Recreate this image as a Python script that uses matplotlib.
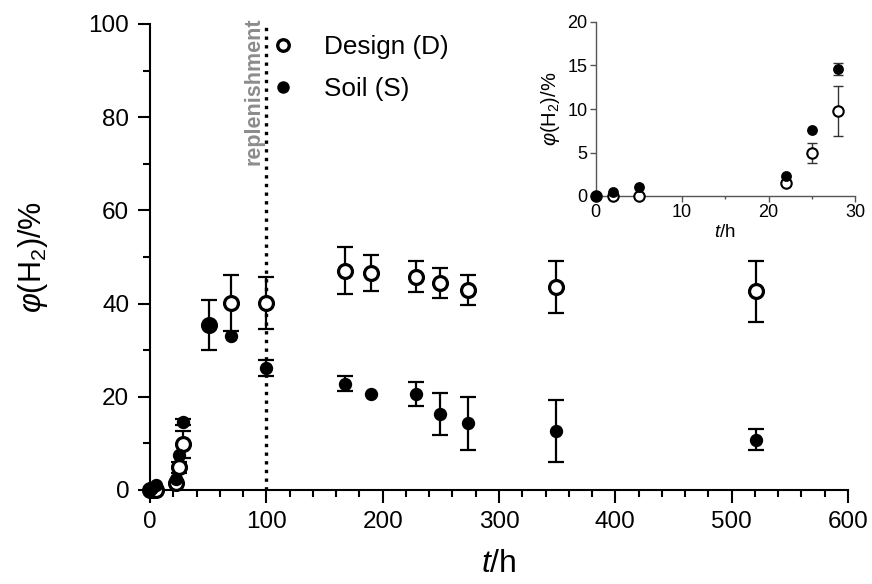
import matplotlib
matplotlib.use("Agg")
import matplotlib.pyplot as plt
from matplotlib.ticker import MultipleLocator
from matplotlib.lines import Line2D

plt.rcParams['font.family'] = ['Liberation Sans', 'DejaVu Sans']
plt.rcParams['mathtext.fontset'] = 'custom'
plt.rcParams['mathtext.rm'] = 'Liberation Sans'
plt.rcParams['mathtext.it'] = 'Liberation Sans:italic'
plt.rcParams['mathtext.bf'] = 'Liberation Sans:bold'

# ---- data ----
t = [0, 2, 5, 22, 25, 28, 51, 70, 100, 168, 190, 229, 249, 273, 349, 521]
design = [0, 0, 0, 1.45, 4.9, 9.8, 35.4, 40.2, 40.2, 47.1, 46.6, 45.8, 44.4, 42.9, 43.5, 42.6]
design_err = [0, 0, 0, 0, 1.15, 2.9, 5.3, 6.0, 5.6, 5.1, 3.8, 3.3, 3.3, 3.2, 5.6, 6.6]
soil = [0, 0.5, 1.0, 2.3, 7.6, 14.6, 35.4, 33.0, 26.1, 22.8, 20.7, 20.6, 16.3, 14.3, 12.7, 10.8]
soil_err = [0, 0, 0, 0, 0, 0.7, 0, 0, 1.7, 1.6, 0, 2.5, 4.5, 5.7, 6.6, 2.3]

inset_n = 6  # first six points (t <= 28 h) shown in the inset
replenishment_t = 100


def with_err(x, y, e):
    """Keep only the points that have a visible error bar."""
    keep = [i for i in range(len(x)) if e[i] > 0]
    return [x[i] for i in keep], [y[i] for i in keep], [e[i] for i in keep]


fig = plt.figure(figsize=(8.72, 5.84), dpi=100)
ax = fig.add_axes([150/872, 1-490/584, 698/872, 466/584])

ax.axvline(replenishment_t, ymin=0, ymax=1, color='black', ls=(0, (1, 1.6)), lw=2.4, zorder=1)

eb = dict(fmt='none', ecolor='black', elinewidth=1.6, capsize=6, capthick=1.6, clip_on=False)
dx, dy, de = with_err(t, design, design_err)
sx, sy, se = with_err(t, soil, soil_err)
ax.errorbar(dx, dy, yerr=de, zorder=2.5, **eb)
ax.errorbar(sx, sy, yerr=se, zorder=2.5, **eb)
ax.plot(t, design, ls='none', marker='o', ms=10, mfc='white', mec='black', mew=2.3,
        zorder=3, clip_on=False)
ax.plot(t, soil, ls='none', marker='o', ms=9.6, mfc='black', mec='none', mew=0,
        zorder=4, clip_on=False)

ax.set_xlim(0, 600)
ax.set_ylim(0, 100)
ax.xaxis.set_major_locator(MultipleLocator(100))
ax.xaxis.set_minor_locator(MultipleLocator(20))
ax.yaxis.set_major_locator(MultipleLocator(20))
ax.yaxis.set_minor_locator(MultipleLocator(10))
for s in ['top', 'right']:
    ax.spines[s].set_visible(False)
for s in ['left', 'bottom']:
    ax.spines[s].set_linewidth(1.5)
ax.tick_params(which='major', length=9, width=1.5, labelsize=17.5, pad=6)
ax.tick_params(which='minor', length=5, width=1.5)
ax.set_xlabel(r'$t$/h', fontsize=23, labelpad=12)
ax.set_ylabel(r'$\mathit{\varphi}$(H$_2$)/%', fontsize=22, labelpad=28)

ax.text(98.5, 101.5, 'replenishment', rotation=90, ha='right', va='top',
        fontsize=15.5, fontweight='bold', color='#8c8c8c', clip_on=False)

handles = [
    Line2D([], [], ls='none', marker='o', ms=8.3, mfc='white', mec='black', mew=2.4),
    Line2D([], [], ls='none', marker='o', ms=9.0, mfc='black', mec='none', mew=0),
]
ax.legend(handles, ['Design (D)', 'Soil (S)'], loc='upper left',
          bbox_to_anchor=(0.176, 0.977), frameon=False, fontsize=18.8,
          handlelength=0.8, handletextpad=1.15, labelspacing=0.7,
          borderpad=0, borderaxespad=0)

# ---- inset ----
ins = fig.add_axes([595.6/872, 1-196/584, 259.4/872, 174/584])
ins.patch.set_alpha(0)
ieb = dict(fmt='none', ecolor='#333333', elinewidth=1.0, capsize=3.5, capthick=1.0, clip_on=False)
idx, idy, ide = with_err(t[:inset_n], design[:inset_n], design_err[:inset_n])
isx, isy, ise = with_err(t[:inset_n], soil[:inset_n], soil_err[:inset_n])
ins.errorbar(idx, idy, yerr=ide, zorder=2.5, **ieb)
ins.errorbar(isx, isy, yerr=ise, zorder=2.5, **ieb)
ins.plot(t[:inset_n], design[:inset_n], ls='none', marker='o', ms=7.5, mfc='white',
         mec='black', mew=1.5, zorder=3, clip_on=False)
ins.plot(t[:inset_n], soil[:inset_n], ls='none', marker='o', ms=7.8, mfc='black',
         mec='none', mew=0, zorder=4, clip_on=False)
ins.set_xlim(0, 30)
ins.set_ylim(0, 20)
ins.xaxis.set_major_locator(MultipleLocator(10))
ins.xaxis.set_minor_locator(MultipleLocator(5))
ins.yaxis.set_major_locator(MultipleLocator(5))
for s in ['top', 'right']:
    ins.spines[s].set_visible(False)
for s in ['left', 'bottom']:
    ins.spines[s].set_linewidth(1.0)
    ins.spines[s].set_color('#555555')
ins.tick_params(which='major', length=4, width=1.0, color='#555555', labelsize=13, pad=2)
ins.tick_params(which='minor', length=2.5, width=1.0, color='#555555')
ins.set_xlabel(r'$t$/h', fontsize=13.5, labelpad=2)
ins.set_ylabel(r'$\mathit{\varphi}$(H$_2$)/%', fontsize=14.5, labelpad=4)

fig.savefig('out.png', dpi=100)
